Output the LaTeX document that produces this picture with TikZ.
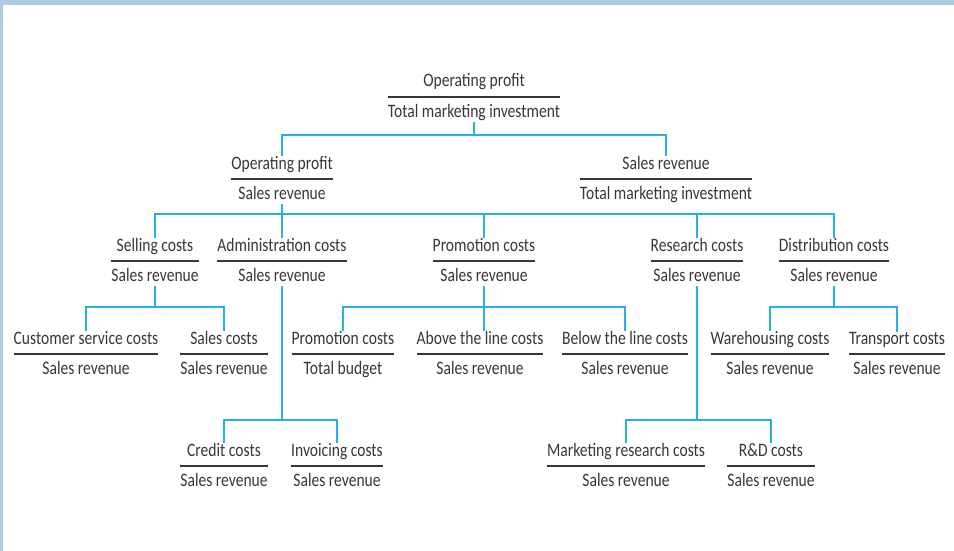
\documentclass[tikz,border=0pt]{standalone}
\usepackage{fontspec}
\setmainfont[FakeStretch=0.82]{Carlito}
\usepackage{tikz}

\definecolor{linkblue}{RGB}{38,176,228}
\definecolor{textgrey}{RGB}{55,55,55}
\definecolor{frameblue}{RGB}{172,205,224}

\renewcommand{\arraystretch}{0}
\setlength{\arrayrulewidth}{1.8pt}
\newcommand{\fracbox}[2]{\begin{tabular}[t]{@{}c@{}}\rule[-9pt]{0pt}{18pt}#1\\\hline\rule[-4pt]{0pt}{24pt}#2\end{tabular}}

\begin{document}
\begin{tikzpicture}[x=1pt, y=-1pt,
  ratiobox/.style={inner sep=0pt, text=textgrey, font=\fontsize{19}{23}\selectfont, anchor=base},
  link/.style={draw=linkblue, line width=1.6pt}]
\useasboundingbox (0,0) rectangle (954,551);
\fill[frameblue] (0,0) rectangle (954,5);
\fill[frameblue] (0,0) rectangle (3,551);

% Bus levels
\coordinate (bus1) at (0,135);
\coordinate (bus2) at (0,214);
\coordinate (bus3) at (0,307);
\coordinate (bus4) at (0,420);

% Nodes - top
\node[ratiobox] (roi) at (474,87) {\fracbox{Operating profit}{Total marketing investment}};
\node[ratiobox] (margin) at (282,169) {\fracbox{Operating profit}{Sales revenue}};
\node[ratiobox] (turnover) at (666,169) {\fracbox{Sales revenue}{Total marketing investment}};

% Nodes - cost ratios
\node[ratiobox] (selling) at (155,251) {\fracbox{Selling costs}{Sales revenue}};
\node[ratiobox] (admin) at (282,251) {\fracbox{Administration costs}{Sales revenue}};
\node[ratiobox] (promo) at (484,251) {\fracbox{Promotion costs}{Sales revenue}};
\node[ratiobox] (research) at (697,251) {\fracbox{Research costs}{Sales revenue}};
\node[ratiobox] (distrib) at (834,251) {\fracbox{Distribution costs}{Sales revenue}};

% Nodes - third row
\node[ratiobox] (custserv) at (86,344) {\fracbox{Customer service costs}{Sales revenue}};
\node[ratiobox] (salescost) at (224,344) {\fracbox{Sales costs}{Sales revenue}};
\node[ratiobox] (budget) at (343,344) {\fracbox{Promotion costs}{Total budget}};
\node[ratiobox] (above) at (480,344) {\fracbox{Above the line costs}{Sales revenue}};
\node[ratiobox] (below) at (625,344) {\fracbox{Below the line costs}{Sales revenue}};
\node[ratiobox] (warehouse) at (770,344) {\fracbox{Warehousing costs}{Sales revenue}};
\node[ratiobox] (transport) at (897,344) {\fracbox{Transport costs}{Sales revenue}};

% Nodes - bottom row
\node[ratiobox] (credit) at (224,456) {\fracbox{Credit costs}{Sales revenue}};
\node[ratiobox] (invoice) at (337,456) {\fracbox{Invoicing costs}{Sales revenue}};
\node[ratiobox] (mktres) at (626,456) {\fracbox{Marketing research costs}{Sales revenue}};
\node[ratiobox] (rnd) at (771,456) {\fracbox{R\&D costs}{Sales revenue}};

% Connectors
\draw[link] (roi.south) -- (roi.south |- bus1) -| (margin.north);
\draw[link] (roi.south |- bus1) -| (turnover.north);

\draw[link] (margin.south) -- (admin.north);
\draw[link] (margin.south |- bus2) -| (selling.north);
\draw[link] (margin.south |- bus2) -| (promo.north);
\draw[link] (margin.south |- bus2) -| (research.north);
\draw[link] (margin.south |- bus2) -| (distrib.north);

\draw[link] (selling.south) -- (selling.south |- bus3) -| (custserv.north);
\draw[link] (selling.south |- bus3) -| (salescost.north);
\draw[link] (promo.south) -- (promo.south |- above.north);
\draw[link] (promo.south |- bus3) -| (budget.north);
\draw[link] (promo.south |- bus3) -| (below.north);
\draw[link] (distrib.south) -- (distrib.south |- bus3) -| (warehouse.north);
\draw[link] (distrib.south |- bus3) -| (transport.north);

\draw[link] (admin.south) -- (admin.south |- bus4) -| (credit.north);
\draw[link] (admin.south |- bus4) -| (invoice.north);
\draw[link] (research.south) -- (research.south |- bus4) -| (mktres.north);
\draw[link] (research.south |- bus4) -| (rnd.north);
\end{tikzpicture}
\end{document}
